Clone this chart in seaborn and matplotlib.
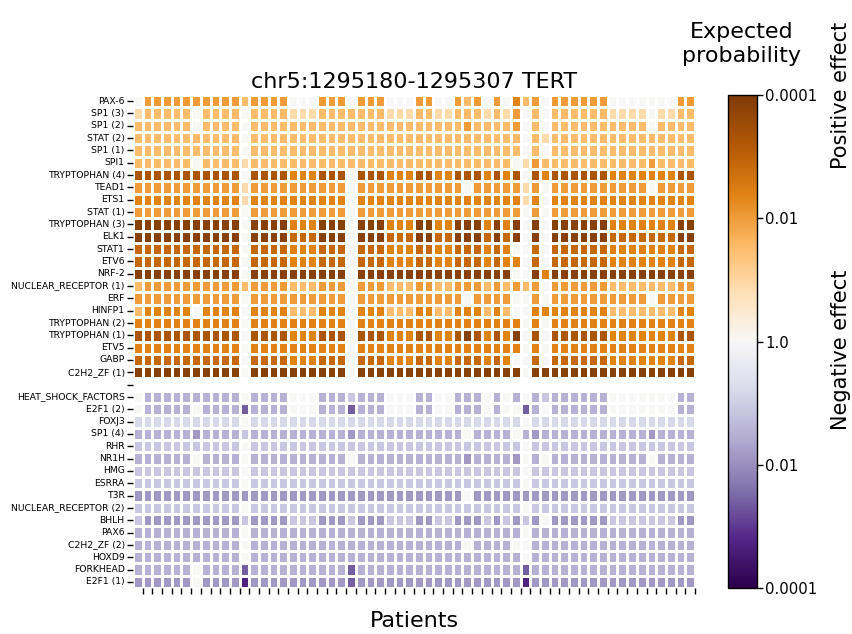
import numpy as np
import pandas as pd
import matplotlib
matplotlib.use("Agg")
import matplotlib.pyplot as plt
import seaborn as sns

title = "chr5:1295180-1295307 TERT"

positive_factors = [
    "PAX-6", "SP1 (3)", "SP1 (2)", "STAT (2)", "SP1 (1)", "SPI1",
    "TRYPTOPHAN (4)", "TEAD1", "ETS1", "STAT (1)", "TRYPTOPHAN (3)", "ELK1",
    "STAT1", "ETV6", "NRF-2", "NUCLEAR_RECEPTOR (1)", "ERF", "HINFP1",
    "TRYPTOPHAN (2)", "TRYPTOPHAN (1)", "ETV5", "GABP", "C2H2_ZF (1)",
]
negative_factors = [
    "HEAT_SHOCK_FACTORS", "E2F1 (2)", "FOXJ3", "SP1 (4)", "RHR", "NR1H", "HMG",
    "ESRRA", "T3R", "NUCLEAR_RECEPTOR (2)", "BHLH", "PAX6", "C2H2_ZF (2)",
    "HOXD9", "FORKHEAD", "E2F1 (1)",
]

positive_rows = [
    "0 3333333333 2 3333 000 333 0 333 000 33 00 323 0 3 0 4 2 3 0 333333 0000000 33",
    "1 2222202222 0 2222 111 222 2 222 111 22 11 222 1 2 1 3 0 2 0 222222 1111011 22",
    "2 2222202222 0 2222 222 222 2 222 222 22 22 232 2 2 2 3 0 2 0 222222 2222022 22",
    "2 2222222222 0 2222 222 222 2 222 222 22 22 222 2 2 2 2 0 2 1 222222 2222222 22",
    "2 2222222222 0 2222 222 222 2 222 222 22 22 222 2 2 2 2 0 2 0 222222 2222222 22",
    "2 2222202222 1 2222 222 222 2 222 222 22 22 222 2 2 2 0 1 3 2 222222 2222322 22",
    "6 6666666666 0 6666 444 666 0 666 444 66 44 666 4 6 4 6 0 6 4 666666 4444444 66",
    "3 3333333333 1 3333 333 333 0 333 333 33 33 303 3 3 3 3 1 3 0 333333 3333033 33",
    "4 4444444444 1 4444 444 444 0 444 444 44 44 444 4 4 4 4 1 4 0 444444 4444444 44",
    "3 3333333333 0 3333 333 333 0 333 333 33 33 333 3 3 3 3 0 3 0 333333 3333333 33",
    "7 7777777777 0 7777 444 777 0 777 444 77 44 777 4 7 4 7 0 7 0 777777 4444444 77",
    "7 7777777777 0 7777 555 777 0 777 555 77 55 777 5 7 5 7 0 7 0 777777 5555555 77",
    "5 5555555555 0 5555 444 555 0 555 444 55 44 555 4 5 4 0 0 5 0 555555 4444444 55",
    "5 5555555555 0 5555 444 555 0 555 444 55 44 555 4 5 4 4 0 5 0 555555 4444444 55",
    "7 7777777777 0 7777 777 777 0 777 777 77 77 777 7 7 7 0 0 7 4 777777 7777777 77",
    "2 3333333333 2 3333 222 333 0 333 222 33 22 333 2 3 2 3 2 3 0 333333 2222222 33",
    "3 3333333333 0 3333 333 333 0 333 333 33 33 303 3 3 3 0 0 3 0 333333 3333033 33",
    "2 4444404444 0 4444 222 444 0 444 222 44 22 444 2 4 2 0 0 4 4 444444 2222222 44",
    "4 4444444444 0 4444 444 444 0 444 444 44 44 444 4 4 4 4 0 4 0 444444 4444444 44",
    "6 6666666666 0 6666 444 666 0 666 444 66 44 676 4 6 4 7 0 6 0 666666 4444444 66",
    "4 4444444444 0 4444 444 444 0 444 444 44 44 444 4 4 4 4 0 4 0 444444 4444444 44",
    "5 5555555555 0 5555 444 555 0 555 444 55 44 555 4 5 4 0 0 5 0 555555 4444444 55",
    "7 7777777777 0 7777 777 777 0 777 777 77 77 777 7 7 7 7 0 7 7 777777 7777777 77",
]
negative_rows = [
    "0 cccccccccc 0 cccc 000 ccc b ccc 000 cc 00 ccc 0 c 0 c 0 c b cccccc 0000000 cc",
    "0 ccccc0cccc e cccc 000 ccc e ccc 000 cc 00 ccc 0 c 0 0 e c 0 cccccc 0000000 cc",
    "a aaaaaaaaaa 0 aaaa aaa aaa a aaa aaa aa aa aaa a a a a 0 a a aaaaaa aaaaaaa aa",
    "c cccccdcccc b cccc ccc ccc d ccc ccc cc cc c0c c c c 0 c d c cccccc ccccdcc cc",
    "b bbbbbbbbbb 0 bbbb bbb bbb b bbb bbb bb bb bbb b b b b 0 b b bbbbbb bbbbbbb bb",
    "c ccccc0cccc 0 cccc ccc ccc 0 ccc ccc cc cc cdc c c c d 0 c 0 cccccc cccc0cc cc",
    "b bbbbbbbbbb 0 bbbb bbb bbb b bbb bbb bb bb bbb b b b b 0 b b bbbbbb bbbbbbb bb",
    "b bbbbbbbbbb 0 bbbb bbb bbb b bbb bbb bb bb bbb b b b b 0 b b bbbbbb bbbbbbb bb",
    "d dddddddddd d dddd ddd ddd d ddd ddd dd dd d0d d d d d d d d dddddd ddddddd dd",
    "b bbbbbbbbbb 0 bbbb bbb bbb b bbb bbb bb bb bbb b b b b 0 b b bbbbbb bbbbbbb bb",
    "b dddddddddd b dddd bbb ddd b ddd bbb dd bb ddd b d b d b d 0 dddddd bbbbbbb dd",
    "c cccccccccc 0 cccc ccc ccc c ccc ccc cc cc ccc c c c c 0 c c cccccc ccccccc cc",
    "c cccccccccc 0 cccc ccc ccc c ccc ccc cc cc c0c c c c 0 0 c c cccccc ccccccc cc",
    "c cccccccccc 0 cccc ccc ccc c ccc ccc cc cc ccc c c c c 0 c c cccccc ccccccc cc",
    "c ccccc0cccc e cccc ccc ccc e ccc ccc cc cc ccc c c c c e c c cccccc ccccccc cc",
    "d ddddd0dddd f dddd ddd ddd e ddd ddd dd dd ddd d d d d f d d dddddd ddddddd dd",
]

# signed -log10(expected probability) for each code
level_values = {
    "0": 0.0, "1": 0.9, "2": 1.5, "3": 2.0, "4": 2.4, "5": 2.9, "6": 3.3, "7": 3.85,
    "a": -0.8, "b": -1.15, "c": -1.5, "d": -1.85, "e": -2.6, "f": -3.3,
}

cbar_ticks = [-4, -2, 0, 2, 4]
cbar_labels = ["0.0001", "0.01", "1.0", "0.01", "0.0001"]
n_patients = 58


def decode(row):
    s = row.replace(" ", "")
    vals = [level_values[ch] for ch in s]
    if len(vals) != n_patients:
        raise ValueError(f"row has {len(vals)} values: {row}")
    return vals


matrix = [decode(r) for r in positive_rows]
matrix.append([np.nan] * n_patients)
matrix += [decode(r) for r in negative_rows]
row_labels = positive_factors + [""] + negative_factors

df = pd.DataFrame(matrix, index=row_labels,
                  columns=[f"P{i + 1}" for i in range(n_patients)])

W, H = 852, 634
fig = plt.figure(figsize=(W / 100, H / 100), dpi=100)
ax = fig.add_axes([133 / W, 1 - 588 / H, 562 / W, 493 / H])
cax = fig.add_axes([728 / W, 1 - 588 / H, 29 / W, 493 / H])

sns.heatmap(df, ax=ax, cbar_ax=cax, cmap="PuOr_r", vmin=-4, vmax=4,
            linewidths=1.0, linecolor="white",
            xticklabels=False, yticklabels=True)

ax.set_yticks(np.arange(len(row_labels)) + 0.5)
ax.set_yticklabels(row_labels, rotation=0, fontsize=6.7)
ax.set_xticks(np.arange(1, n_patients + 1))
ax.set_xticklabels([""] * n_patients)
ax.tick_params(axis="y", length=4, width=1, pad=2, colors="black")
ax.tick_params(axis="x", length=4, width=1, bottom=True)
ax.set_xlabel("")
ax.set_ylabel("")
ax.set_title(title, fontsize=16, pad=5)

cb = ax.collections[0].colorbar
cb.set_ticks(cbar_ticks)
cb.set_ticklabels(cbar_labels)
cb.ax.tick_params(labelsize=10.7, length=4, width=1, pad=2)
cb.outline.set_linewidth(1.0)
cb.outline.set_edgecolor("black")

fig.text(414 / W, 1 - 621 / H, "Patients", ha="center", va="center", fontsize=16)
fig.text(742 / W, 1 - 44 / H, "Expected\nprobability", ha="center", va="center",
         fontsize=16)
fig.text(841 / W, 1 - 95 / H, "Positive effect", rotation=90, ha="center",
         va="center", fontsize=15)
fig.text(841 / W, 1 - 350 / H, "Negative effect", rotation=90, ha="center",
         va="center", fontsize=15)

fig.savefig("out.png", dpi=100)
